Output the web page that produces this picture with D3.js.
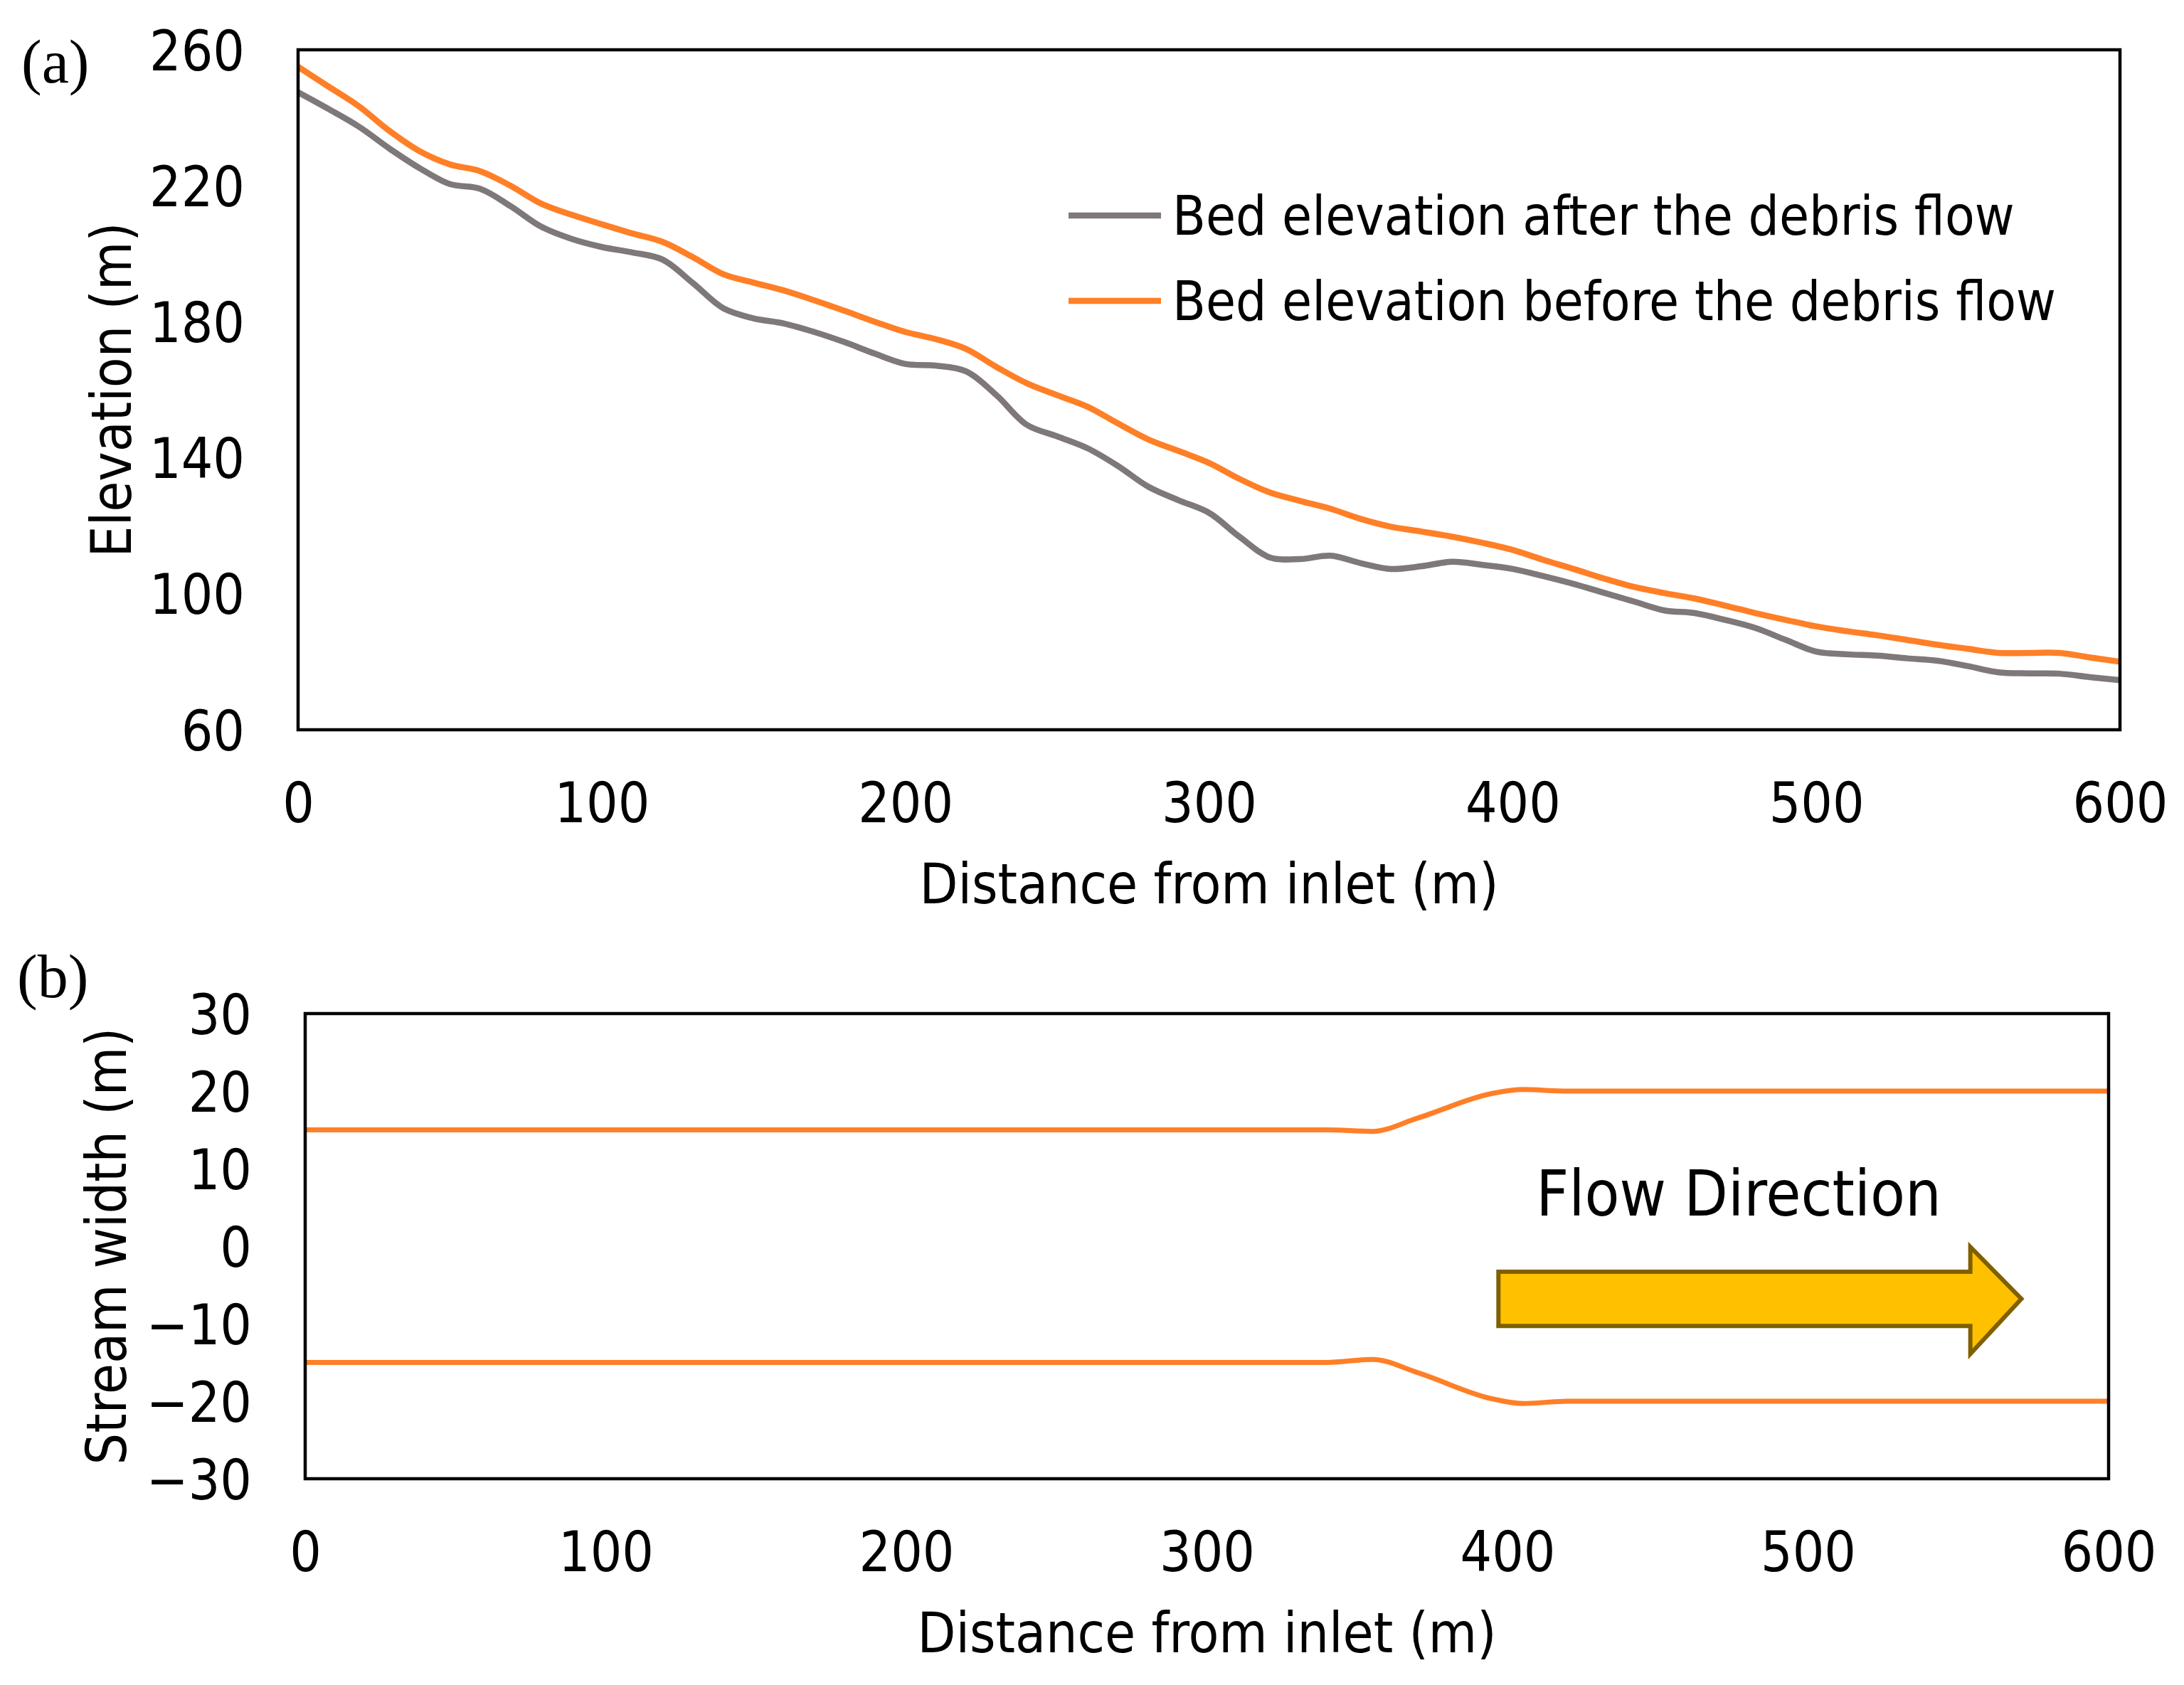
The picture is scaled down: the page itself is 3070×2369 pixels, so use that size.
<!DOCTYPE html>
<html>
  <head>
    <title>Bed elevation and stream width</title>
    <script src="https://d3js.org/d3.v7.min.js"></script>
    <style>
      body { margin: 0; background: #ffffff; }
      text { font-family: 'DejaVu Sans Condensed', 'DejaVu Sans', sans-serif; fill: #000; }
    </style>
  </head>
  <body>
    <svg width="3070" height="2369" id="mainsvg"></svg>
    <script>
        // distance from inlet (m), sampled every 10 m
        const distance = d3.range(0, 601, 10);
        // bed elevation after the debris flow (m)
        const afterElev = [247.5, 242.6, 237.4, 231, 225.2, 220.5, 219.1, 214, 208, 204.4,
            202, 200.4, 198.3, 191.4, 184, 181, 179.5, 177, 174, 170.6,
            167.6, 167.1, 165.4, 158.4, 149.7, 146.3, 142.8, 137.6, 131.5, 127.5,
            123.8, 116.8, 110.7, 110.2, 111.2, 109, 107.3, 108.1, 109.4, 108.5,
            107.3, 105.2, 102.9, 100.3, 97.7, 95.1, 94.3, 92.3, 89.9, 86.4,
            83, 82.2, 81.8, 81, 80.3, 78.7, 76.9, 76.6, 76.5, 75.5, 74.6];
        // bed elevation before the debris flow (m)
        const beforeElev = [255, 249.2, 243.4, 236.2, 230.2, 226.3, 224.3, 220, 214.8, 211.5,
            208.7, 206, 203.5, 199, 194, 191.5, 189.2, 186.3, 183.2, 180,
            177, 174.9, 172, 166.7, 161.9, 158.4, 155, 150.1, 145.4, 142,
            138.5, 133.8, 129.8, 127.3, 125, 122, 119.7, 118.3, 116.8, 115,
            112.9, 110, 107.3, 104.5, 102, 100.2, 98.6, 96.5, 94.3, 92.3,
            90.4, 89, 87.8, 86.4, 85, 83.8, 82.6, 82.6, 82.6, 81.3, 80];

        // stream banks (m)
        const bankX = [0, 340, 355, 370, 395, 405, 420, 600];
        const bankUpper = [15, 15, 14.8, 16.5, 19.7, 20.2, 20, 20];
        const bankLower = [-15, -15, -14.6, -16.3, -19.7, -20.3, -20, -20];

        const xTicks = [0, 100, 200, 300, 400, 500, 600];
        const elevTicks = [60, 100, 140, 180, 220, 260];
        const widthTicks = [-30, -20, -10, 0, 10, 20, 30];

        const seriesNames = ['Bed elevation after the debris flow', 'Bed elevation before the debris flow'];
        const seriesColors = ['#7f7878', '#ff7f27'];

        const svg = d3.select('#mainsvg');
        const fontSize = 78;
        const fmt = d => d < 0 ? '\u2212' + Math.abs(d) : String(d);

        const drawFrame = function(g, xScale, yScale, yTickVals, yTitle, yTitleX, tag, tagX, tagY){
            const [x0, x1] = xScale.range();
            const [y1, y0] = yScale.range();

            const xAxis = d3.axisBottom(xScale).tickValues(xTicks).tickSize(0).tickFormat(fmt);
            const xg = g.append('g').attr('transform', `translate(0, ${y1})`).call(xAxis);
            xg.select('.domain').remove();
            xg.selectAll('text').attr('y', 102).attr('dy', '0.36em')
              .attr('font-size', fontSize).attr('font-family', null);

            const yAxis = d3.axisLeft(yScale).tickValues(yTickVals).tickSize(0).tickFormat(fmt);
            const yg = g.append('g').attr('transform', `translate(${x0}, 0)`).call(yAxis);
            yg.select('.domain').remove();
            yg.selectAll('text').attr('x', -75).attr('dy', '0.36em')
              .attr('font-size', fontSize).attr('font-family', null);

            g.append('rect')
              .attr('x', x0).attr('y', y0)
              .attr('width', x1 - x0).attr('height', y1 - y0)
              .attr('fill', 'none').attr('stroke', '#000').attr('stroke-width', 4.5);

            g.append('text')
              .attr('x', (x0 + x1) / 2).attr('y', y1 + 244)
              .attr('text-anchor', 'middle').attr('font-size', fontSize)
              .text('Distance from inlet (m)');

            g.append('text')
              .attr('transform', `translate(${yTitleX}, ${(y0 + y1) / 2}) rotate(-90)`)
              .attr('text-anchor', 'middle').attr('font-size', fontSize)
              .text(yTitle);

            g.append('text')
              .attr('x', tagX).attr('y', tagY)
              .style('font-family', "'Liberation Serif', 'Times New Roman', serif")
              .attr('font-size', 86)
              .text(tag);
        };

        // ---------- panel (a) ----------
        const xA = d3.scaleLinear().domain([0, 600]).range([419, 2980]);
        const yA = d3.scaleLinear().domain([60, 260]).range([1026, 70]);
        const gA = svg.append('g');

        const lineA = d3.line()
            .x((d, i) => xA(distance[i]))
            .y(d => yA(d))
            .curve(d3.curveCatmullRom.alpha(0.5));

        gA.append('path').datum(afterElev)
          .attr('d', lineA).attr('fill', 'none')
          .attr('stroke', seriesColors[0]).attr('stroke-width', 8.5);
        gA.append('path').datum(beforeElev)
          .attr('d', lineA).attr('fill', 'none')
          .attr('stroke', seriesColors[1]).attr('stroke-width', 8.5);

        drawFrame(gA, xA, yA, elevTicks, 'Elevation (m)', 184, '(a)', 30, 116);

        // legend
        const legend = gA.append('g');
        seriesNames.forEach((name, i) => {
            const ly = 303 + i * 120;
            legend.append('line')
              .attr('x1', 1502).attr('x2', 1632).attr('y1', ly).attr('y2', ly)
              .attr('stroke', seriesColors[i]).attr('stroke-width', 8.5);
            legend.append('text')
              .attr('x', 1648).attr('y', ly).attr('dy', '0.36em')
              .attr('font-size', 76)
              .text(name);
        });

        // ---------- panel (b) ----------
        const xB = d3.scaleLinear().domain([0, 600]).range([429, 2964]);
        const yB = d3.scaleLinear().domain([-30, 30]).range([2079, 1425]);
        const gB = svg.append('g');

        const lineB = d3.line()
            .x((d, i) => xB(bankX[i]))
            .y(d => yB(d))
            .curve(d3.curveMonotoneX);

        [bankUpper, bankLower].forEach(bank => {
            gB.append('path').datum(bank)
              .attr('d', lineB).attr('fill', 'none')
              .attr('stroke', seriesColors[1]).attr('stroke-width', 7);
        });

        drawFrame(gB, xB, yB, widthTicks, 'Stream width (m)', 177, '(b)', 24, 1402);

        // flow direction arrow (in data units of panel b)
        const arrow = [[397, -3.3], [554, -3.3], [554, -0.1], [571, -6.8],
                       [554, -13.9], [554, -10.3], [397, -10.3]];
        gB.append('path')
          .attr('d', d3.line().x(d => xB(d[0])).y(d => yB(d[1]))(arrow) + 'Z')
          .attr('fill', '#ffc000').attr('stroke', '#7f6000')
          .attr('stroke-width', 6).attr('stroke-linejoin', 'miter');

        gB.append('text')
          .attr('x', xB(409.5)).attr('y', 1709)
          .attr('font-size', 89)
          .text('Flow Direction');
    </script>
  </body>
</html>
